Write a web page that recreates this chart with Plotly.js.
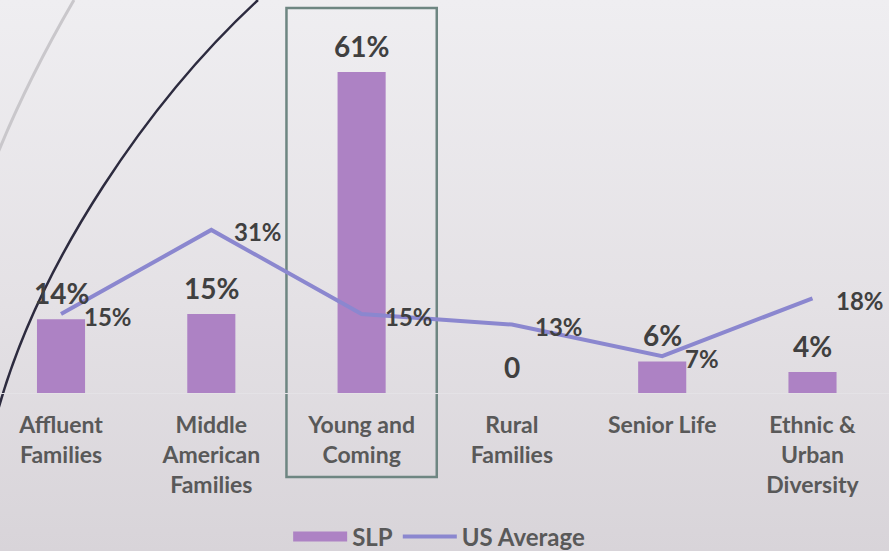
<!DOCTYPE html>
<html>
<head>
<meta charset="utf-8">
<script src="https://cdn.plot.ly/plotly-3.0.1.min.js"></script>
<style>
  html, body { margin: 0; padding: 0; width: 889px; height: 551px; overflow: hidden;
    background: linear-gradient(to bottom, #efeef1 0%, #e4e1e5 55%, #d8d4d9 100%); }
  #chart { width: 889px; height: 551px; }
</style>
</head>
<body>
<div id="chart"></div>
<script>
// ---- data ----
const categories = ["Affluent Families", "Middle American Families", "Young and Coming",
                    "Rural Families", "Senior Life", "Ethnic & Urban Diversity"];
const tickLabels = ["Affluent<br>Families", "Middle<br>American<br>Families", "Young and<br>Coming",
                    "Rural<br>Families", "Senior Life", "Ethnic &<br>Urban<br>Diversity"];
const slpValues = [14, 15, 61, 0, 6, 4];
const usAverage = [15, 31, 15, 13, 7, 18];
const highlightIndex = 2;

// ---- layout constants ----
const W = 889, H = 551, PLOT_H = 393;
const xRange = [-0.406, 5.509];
const yRange = [0, 74.7];
const FONT = "Lato, 'Open Sans', sans-serif";
const idx = categories.map((_, i) => i);

const slpLabels = slpValues.map(v => v === 0 ? "0" : v + "%");
const usLabels = usAverage.map(v => v + "%");

function px(x) { return x / W; }
function py(y) { return (PLOT_H - y) / PLOT_H; }
function pt(x, y) { return px(x).toFixed(4) + "," + py(y).toFixed(4); }
function xPaper(v) { return (v - xRange[0]) / (xRange[1] - xRange[0]); }

const traces = [
  {
    type: "bar", x: idx, y: slpValues, name: "SLP", width: 0.32,
    marker: { color: "#ad82c4" }, showlegend: false, hoverinfo: "skip"
  },
  {
    type: "scatter", mode: "lines", x: [null], y: [null], name: "SLP",
    line: { color: "#ad82c4", width: 13 }, hoverinfo: "skip"
  },
  {
    type: "scatter", mode: "lines", x: idx, y: usAverage, name: "US Average",
    line: { color: "#8b87cf", width: 4 }, hoverinfo: "skip"
  }
];

const annotations = [];
idx.forEach(i => {
  annotations.push({
    x: i, y: slpValues[i], xref: "x", yref: "y", text: slpLabels[i], showarrow: false,
    xanchor: "center", yanchor: "middle", yshift: 26,
    font: { family: FONT, size: 28, color: "#404040", weight: 700 }
  });
  annotations.push({
    x: i, y: usAverage[i], xref: "x", yref: "y", text: usLabels[i], showarrow: false,
    xanchor: "left", yanchor: "middle", xshift: 21, yshift: -2,
    font: { family: FONT, size: 24, color: "#404040", weight: 700 }
  });
});

const shapes = [
  { type: "path", xref: "paper", yref: "paper", layer: "below",
    path: "M" + pt(74, 0) + " C" + pt(45, 50) + " " + pt(15, 110) + " " + pt(-5, 160),
    line: { color: "#c9c7cb", width: 3 } },
  { type: "path", xref: "paper", yref: "paper", layer: "below",
    path: "M" + pt(258, 0) + " C" + pt(150, 100) + " " + pt(40, 260) + " " + pt(-2, 410),
    line: { color: "#2d2b3f", width: 2.5 } },
  { type: "rect", xref: "paper", yref: "paper", layer: "below",
    x0: xPaper(highlightIndex - 0.5), x1: xPaper(highlightIndex + 0.5),
    y0: py(477), y1: py(8),
    line: { color: "#6e8682", width: 2.5 }, fillcolor: "rgba(0,0,0,0)" }
];

const layout = {
  width: W, height: H,
  margin: { l: 0, r: 0, t: 0, b: H - PLOT_H, pad: 0, autoexpand: false },
  paper_bgcolor: "rgba(0,0,0,0)", plot_bgcolor: "rgba(0,0,0,0)",
  font: { family: FONT, color: "#595959" },
  xaxis: {
    range: xRange, tickmode: "array", tickvals: idx, ticktext: tickLabels,
    showgrid: false, zeroline: false, showline: false, ticks: "",
    ticklabelstandoff: 16, automargin: false,
    tickfont: { family: FONT, size: 23, color: "#595959", weight: 700 }
  },
  yaxis: {
    range: yRange, visible: true, showticklabels: false, showgrid: false,
    zeroline: true, zerolinecolor: "#e4e2e6", zerolinewidth: 1, ticks: "", automargin: false
  },
  showlegend: true,
  legend: {
    orientation: "h", x: 0.494, xanchor: "center", y: py(537), yanchor: "middle",
    bgcolor: "rgba(0,0,0,0)", itemwidth: 54, traceorder: "normal",
    font: { family: FONT, size: 24, color: "#595959", weight: 700 }
  },
  annotations: annotations,
  shapes: shapes
};

Plotly.newPlot("chart", traces, layout, { staticPlot: true, displayModeBar: false });
</script>
</body>
</html>
